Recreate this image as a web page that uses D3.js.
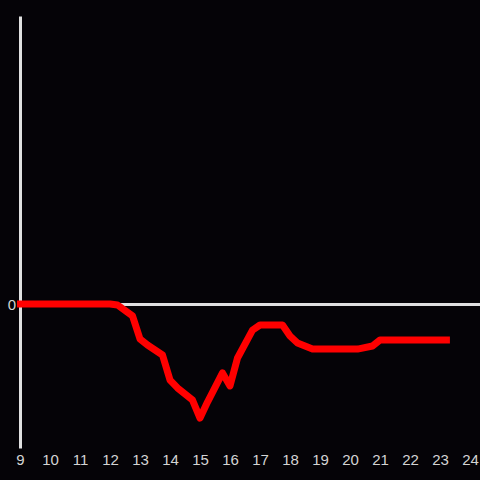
<!DOCTYPE html>
<html>
<head>
<meta charset="utf-8">
<script src="https://cdn.jsdelivr.net/npm/d3@7"></script>
<style>
  html, body { margin: 0; padding: 0; background: #050307; }
  svg { display: block; }
</style>
</head>
<body>
<svg id="canvas" width="480" height="480"></svg>
<script>
// hour of day and value
const hours = [8.9, 12, 12.25, 12.75, 13, 13.25, 13.75, 14, 14.25, 14.75, 15, 15.25, 15.75, 16,
  16.25, 16.75, 17, 17.75, 18, 18.25, 18.75, 20.25, 20.75, 21, 23.33];
const values = [0, 0, -0.007, -0.083, -0.243, -0.285, -0.354, -0.528, -0.583, -0.667, -0.792, -0.681,
  -0.479, -0.569, -0.375, -0.181, -0.146, -0.146, -0.222, -0.271, -0.313, -0.313, -0.292, -0.25, -0.25];
const xTicks = [9, 10, 11, 12, 13, 14, 15, 16, 17, 18, 19, 20, 21, 22, 23, 24];
const yTicks = [0];

const settings = {
  left: 20, right: 480, top: 16, bottom: 448,
  font: '"Liberation Sans", Arial, sans-serif', fontSize: 15, textColor: "#d4d4d4",
};

function graph() {
  const svg = d3.select('#canvas');

  const x = d3.scaleLinear()
    .domain([9, 24.333])
    .range([settings.left, settings.right]);

  const y = d3.scaleLinear()
    .domain([-1, 2])
    .range([settings.bottom, settings.top]);

  // y axis: vertical line and the single "0" label
  const yAxis = svg.append("g")
    .attr("transform", `translate(${settings.left},0)`)
    .call(d3.axisLeft(y).tickValues(yTicks).tickSize(0).tickPadding(4).tickFormat(d3.format("d")));
  yAxis.select(".domain").attr("stroke", "#e0e0e0").attr("stroke-width", 3);

  // x axis sits on zero
  const xAxis = svg.append("g")
    .attr("transform", `translate(0,${y(0)})`)
    .call(d3.axisBottom(x).tickValues(xTicks).tickSize(0).tickFormat(d3.format("d")));
  xAxis.select(".domain").attr("stroke", "#e0e0e0").attr("stroke-width", 3);
  xAxis.selectAll(".tick text").attr("y", settings.bottom - y(0) + 12);

  svg.selectAll(".tick text")
    .attr("dy", "0.36em")
    .attr("fill", settings.textColor)
    .attr("font-size", settings.fontSize)
    .attr("font-family", settings.font);

  const pts = hours.map((h, i) => [h, values[i]]);
  const line = d3.line()
    .x(d => x(d[0]))
    .y(d => y(d[1]));

  svg.append("path")
    .datum(pts)
    .attr("d", line)
    .attr("fill", "none")
    .attr("stroke", "#ff0000")
    .attr("stroke-width", 7)
    .attr("stroke-linejoin", "round");
}

graph();
</script>
</body>
</html>
